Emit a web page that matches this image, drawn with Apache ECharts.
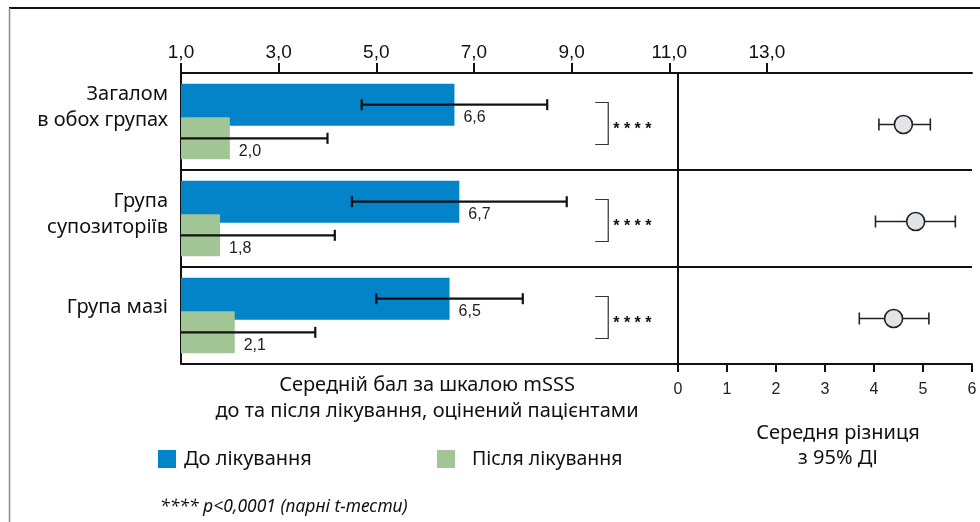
<!DOCTYPE html>
<html>
<head>
<meta charset="utf-8">
<script src="https://cdn.jsdelivr.net/npm/echarts@6/dist/echarts.min.js"></script>
<style>
  html, body { margin: 0; padding: 0; background: #fff; }
  #chart { width: 980px; height: 522px; }
</style>
</head>
<body>
<div id="chart"></div>
<script>
// Patient-rated mSSS score before / after treatment, and mean difference with 95% CI
const categories = ['Загалом\nв обох групах', 'Група\nсупозиторіїв', 'Група мазі'];
const beforeMeans = [6.6, 6.7, 6.5];
const beforeSd = [1.9, 2.2, 1.5];
const afterMeans = [2.0, 1.8, 2.1];
const afterSd = [2.0, 2.35, 1.65];
const diffMeans = [4.6, 4.85, 4.4];
const diffLow = [4.1, 4.03, 3.7];
const diffHigh = [5.15, 5.66, 5.12];
const significance = ['****', '****', '****'];
const scoreTicks = [1, 3, 5, 7, 9, 11, 13];
const seriesNames = ['До лікування', 'Після лікування'];

const BLUE = '#0384c8';
const GREEN = '#a1c595';
const INK = '#111';
const SANS = '"Noto Sans", sans-serif';
const ARIAL = '"Liberation Sans", Arial, sans-serif';
const SCORE_MIN = 1;
const SCORE_MAX = 17.2;
const BAR_SHIFT = 16.8;   // half distance between the two bar centres in a band
const BRACKET_AT = 9.75;  // score position of the significance bracket

const fmt = v => Number(v).toFixed(1).replace('.', ',');

const chart = echarts.init(document.getElementById('chart'), null, { renderer: 'canvas' });

// error bar: mean ± SD, the part below the axis minimum is clipped (no cap there)
function sdBars(means, sds, shift) {
  return {
    type: 'custom',
    xAxisIndex: 0,
    yAxisIndex: 0,
    z: 5,
    data: means.map((m, i) => [m - sds[i], m + sds[i], i]),
    encode: { x: [0, 1], y: 2 },
    renderItem(params, api) {
      const lo = api.value(0), hi = api.value(1), cat = api.value(2);
      const a = api.coord([Math.max(lo, SCORE_MIN), cat]);
      const b = api.coord([hi, cat]);
      const y = a[1] + shift;
      const st = { stroke: INK, lineWidth: 2.2 };
      const kids = [
        { type: 'line', shape: { x1: a[0], y1: y, x2: b[0], y2: y }, style: st },
        { type: 'line', shape: { x1: b[0], y1: y - 5.5, x2: b[0], y2: y + 5.5 }, style: st }
      ];
      if (lo >= SCORE_MIN) {
        kids.push({ type: 'line', shape: { x1: a[0], y1: y - 5.5, x2: a[0], y2: y + 5.5 }, style: st });
      }
      return { type: 'group', children: kids };
    }
  };
}

const barLabel = {
  show: true,
  position: 'right',
  distance: 9,
  offset: [0, 13],
  formatter: p => fmt(p.value),
  fontSize: 16,
  fontFamily: ARIAL,
  color: '#222'
};

const titleFont = '20px "Noto Sans", sans-serif';

const option = {
  backgroundColor: '#fff',
  animation: false,
  grid: [
    { left: 181, right: 8, top: 73, bottom: 158 },
    { left: 678, right: 8, top: 73, bottom: 158 }
  ],
  xAxis: [
    {
      gridIndex: 0, type: 'value', position: 'top',
      min: SCORE_MIN, max: SCORE_MAX, interval: 2,
      axisLine: { show: true, lineStyle: { color: INK, width: 2 } },
      axisTick: { show: true, customValues: scoreTicks, length: 10, lineStyle: { color: INK, width: 2 } },
      axisLabel: {
        customValues: scoreTicks, formatter: v => fmt(v),
        fontSize: 19, fontFamily: ARIAL, color: INK, margin: 11
      },
      splitLine: { show: false }
    },
    {
      gridIndex: 1, type: 'value', position: 'bottom',
      min: 0, max: 6, interval: 1,
      axisLine: { show: true, lineStyle: { color: INK, width: 2 } },
      axisTick: { show: true, length: 8, lineStyle: { color: INK, width: 2 } },
      axisLabel: { fontSize: 16, fontFamily: ARIAL, color: '#222', margin: 18 },
      splitLine: { show: false }
    }
  ],
  yAxis: [
    {
      gridIndex: 0, type: 'category', data: categories, inverse: true,
      axisLine: { show: true, lineStyle: { color: INK, width: 2 } },
      axisTick: { show: false },
      splitLine: { show: true, lineStyle: { color: INK, width: 2 } },
      axisLabel: {
        margin: 13,
        formatter: (value, index) =>
          value.split('\n').map(l => `{t|${l}}`).join('\n') + `\n{pad${index}| }`,
        rich: {
          t: { fontSize: 20, lineHeight: 26, fontFamily: SANS, color: INK, align: 'right' },
          pad0: { fontSize: 1, lineHeight: 28 },
          pad1: { fontSize: 1, lineHeight: 8 },
          pad2: { fontSize: 1, lineHeight: 16 }
        }
      }
    },
    {
      gridIndex: 1, type: 'category', data: categories, inverse: true,
      axisLine: { show: true, lineStyle: { color: INK, width: 2 } },
      axisTick: { show: false },
      axisLabel: { show: false },
      splitLine: { show: false }
    }
  ],
  legend: [
    {
      data: [seriesNames[0]], left: 158, top: 449, padding: 0,
      icon: 'rect', itemWidth: 18, itemHeight: 18,
      textStyle: { fontSize: 20, fontFamily: SANS, color: INK, padding: [0, 0, 0, 3] }
    },
    {
      data: [seriesNames[1]], left: 437, top: 449, padding: 0,
      icon: 'rect', itemWidth: 18, itemHeight: 18,
      textStyle: { fontSize: 19.5, fontFamily: SANS, color: INK, padding: [0, 0, 0, 12] }
    }
  ],
  series: [
    {
      name: seriesNames[0], type: 'bar', xAxisIndex: 0, yAxisIndex: 0,
      data: beforeMeans, barWidth: 42, barGap: '-20%',
      itemStyle: { color: BLUE }, label: barLabel
    },
    {
      name: seriesNames[1], type: 'bar', xAxisIndex: 0, yAxisIndex: 0,
      data: afterMeans, barWidth: 42, barGap: '-20%',
      itemStyle: { color: GREEN }, label: barLabel
    },
    sdBars(beforeMeans, beforeSd, -BAR_SHIFT),
    sdBars(afterMeans, afterSd, BAR_SHIFT),
    {
      // significance bracket and stars for each group
      type: 'custom', xAxisIndex: 0, yAxisIndex: 0, z: 5,
      data: significance.map((s, i) => [BRACKET_AT, i, s]),
      encode: { x: 0, y: 1 },
      renderItem(params, api) {
        const p = api.coord([api.value(0), api.value(1)]);
        const sig = significance[params.dataIndex];
        const top = p[1] - 19, bot = p[1] + 23;
        const st = { stroke: '#333', lineWidth: 1.2 };
        return {
          type: 'group',
          children: [
            { type: 'polyline', shape: { points: [[p[0] - 13, top], [p[0], top], [p[0], bot], [p[0] - 13, bot]] }, style: { ...st, fill: null } },
            {
              type: 'text', x: p[0] + 5, y: p[1] + 8,
              style: {
                text: sig.split('').join(' '), fill: INK,
                font: 'bold 16px "Liberation Sans", Arial, sans-serif',
                textAlign: 'left', textVerticalAlign: 'middle'
              }
            }
          ]
        };
      }
    },
    {
      // mean difference with 95% CI
      type: 'custom', xAxisIndex: 1, yAxisIndex: 1, z: 5,
      data: diffMeans.map((m, i) => [m, diffLow[i], diffHigh[i], i]),
      encode: { x: [0, 1, 2], y: 3 },
      renderItem(params, api) {
        const cat = api.value(3);
        const c = api.coord([api.value(0), cat]);
        const lo = api.coord([api.value(1), cat]);
        const hi = api.coord([api.value(2), cat]);
        const y = c[1] + 3;
        const st = { stroke: '#222', lineWidth: 1.6 };
        return {
          type: 'group',
          children: [
            { type: 'line', shape: { x1: lo[0], y1: y, x2: hi[0], y2: y }, style: st },
            { type: 'line', shape: { x1: lo[0], y1: y - 6, x2: lo[0], y2: y + 6 }, style: st },
            { type: 'line', shape: { x1: hi[0], y1: y - 6, x2: hi[0], y2: y + 6 }, style: st },
            { type: 'circle', shape: { cx: c[0], cy: y, r: 9 }, style: { fill: '#e1e4e9', stroke: '#222', lineWidth: 1.6 } }
          ]
        };
      }
    }
  ],
  graphic: [
    { type: 'line', shape: { x1: 9, y1: 8, x2: 980, y2: 8 }, style: { stroke: INK, lineWidth: 2 }, silent: true },
    { type: 'line', shape: { x1: 9.5, y1: 8, x2: 9.5, y2: 522 }, style: { stroke: '#8a8a8a', lineWidth: 1.5 }, silent: true },
    {
      type: 'text', x: 427, y: 385,
      style: { text: 'Середній бал за шкалою mSSS', font: titleFont, fill: INK, textAlign: 'center', textVerticalAlign: 'middle' }
    },
    {
      type: 'text', x: 427, y: 411,
      style: { text: 'до та після лікування, оцінений пацієнтами', font: titleFont, fill: INK, textAlign: 'center', textVerticalAlign: 'middle' }
    },
    {
      type: 'text', x: 838, y: 433,
      style: { text: 'Середня різниця', font: titleFont, fill: INK, textAlign: 'center', textVerticalAlign: 'middle' }
    },
    {
      type: 'text', x: 838, y: 458,
      style: { text: 'з 95% ДІ', font: titleFont, fill: INK, textAlign: 'center', textVerticalAlign: 'middle' }
    },
    {
      type: 'text', x: 160, y: 507,
      style: { text: '**** p<0,0001 (парні t-тести)', font: 'italic 17.5px "Noto Sans", sans-serif', fill: INK, textAlign: 'left', textVerticalAlign: 'middle' }
    }
  ]
};

chart.setOption(option);
</script>
</body>
</html>
